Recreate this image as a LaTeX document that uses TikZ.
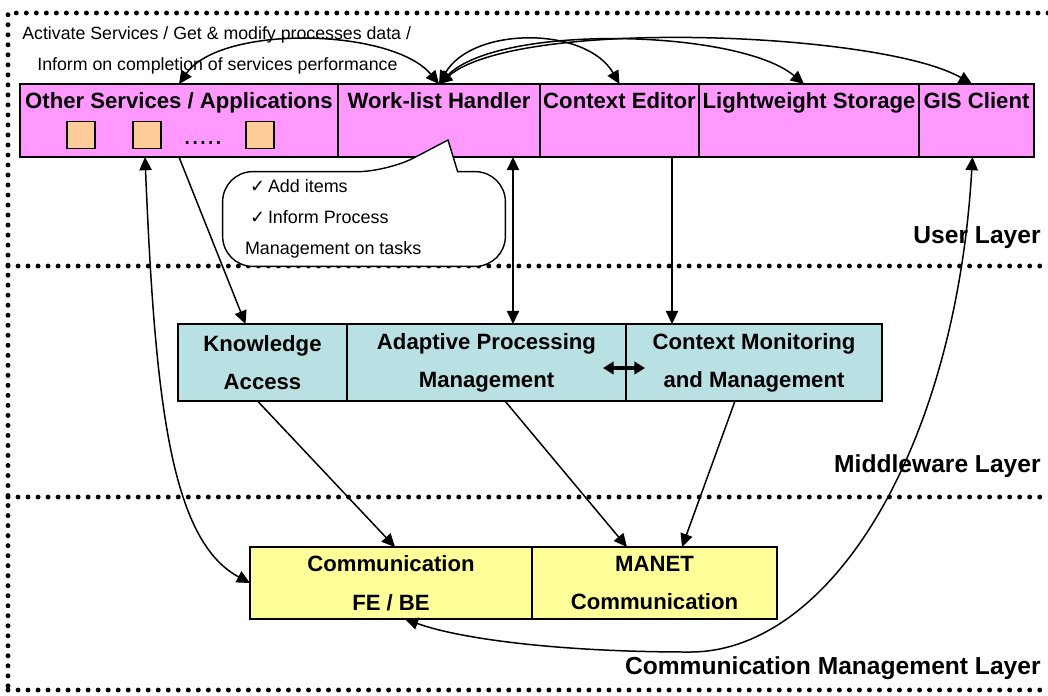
\documentclass[tikz,border=0pt]{standalone}
\usepackage{fontspec}
\setmainfont{Liberation Sans}
\newfontfamily\checkfont{DejaVu Sans}
\usepackage{tikz}
\usetikzlibrary{positioning, calc, arrows.meta}

\definecolor{userpink}{HTML}{FF99FF}
\definecolor{midblue}{HTML}{B9E0E3}
\definecolor{commyellow}{HTML}{FFFF99}
\definecolor{apporange}{HTML}{FFCC99}

\tikzstyle{userbox} = [rectangle, draw=black, line width=1pt, fill=userpink, minimum height=1.46cm, outer sep=0pt, inner sep=0pt]
\tikzstyle{midbox} = [rectangle, draw=black, line width=1pt, fill=midblue, minimum height=1.54cm, outer sep=0pt, align=center, font=\fontsize{12.6}{21.6}\selectfont\bfseries]
\tikzstyle{commbox} = [rectangle, draw=black, line width=1pt, fill=commyellow, minimum height=1.44cm, outer sep=0pt, align=center, font=\fontsize{12.6}{22}\selectfont\bfseries]
\tikzstyle{boxtitle} = [anchor=base, yshift=-0.48cm, inner sep=0pt, font=\fontsize{12.6}{15}\selectfont\bfseries]
\tikzstyle{app} = [rectangle, draw=black, line width=0.9pt, fill=apporange, minimum width=0.56cm, minimum height=0.54cm, inner sep=0pt]
\tikzstyle{layername} = [anchor=east, inner sep=0pt, font=\fontsize{14}{16}\selectfont\bfseries]
\tikzstyle{note} = [anchor=west, inner sep=0pt, font=\fontsize{10.1}{12}\selectfont]
\tikzstyle{separator} = [line width=2.8pt, dash pattern=on 0pt off 5.7pt, line cap=round]
\tikzstyle{arrow} = [line width=0.85pt, ->, >={Triangle[length=7.5pt,width=7pt]}]
\tikzstyle{bubbleline} = [line width=0.8pt, fill=white]

\begin{document}
\begin{tikzpicture}[node distance=0pt]
    \useasboundingbox (0,0) rectangle (20.96,-13.90);

    % Layer borders
    \draw [separator] (20.96,-0.26) -- (0.16,-0.26) -- (0.16,-13.90);
    \draw [separator] (0.16,-5.32) -- (20.96,-5.32);
    \draw [separator] (0.16,-9.94) -- (20.96,-9.94);
    \draw [separator] (0.16,-13.80) -- (20.96,-13.80);

    % Layer names
    \node (userlayer) [layername] at (20.82,-4.76) {User Layer};
    \node (midlayer) [layername] at (20.82,-9.32) {Middleware Layer};
    \node (commlayer) [layername] at (20.82,-13.36) {Communication Management Layer};

    % Notes on the top arrows
    \node (activate) [note] at (0.44,-0.70) {Activate Services / Get \& modify processes data /};
    \node (inform) [note] at (0.74,-1.32) {Inform on completion of services performance};

    % User Layer
    \node (other) [userbox, anchor=north west, minimum width=6.36cm] at (0.40,-1.68) {};
    \node (worklist) [userbox, right=of other, minimum width=4.04cm] {};
    \node (editor) [userbox, right=of worklist, minimum width=3.18cm] {};
    \node (storage) [userbox, right=of editor, minimum width=4.40cm] {};
    \node (gis) [userbox, right=of storage, minimum width=2.30cm] {};

    \node (othertitle) at (other.north) [boxtitle] {Other Services / Applications};
    \node (worklisttitle) at (worklist.north) [boxtitle] {Work-list Handler};
    \node (editortitle) at (editor.north) [boxtitle] {Context Editor};
    \node (storagetitle) at (storage.north) [boxtitle] {Lightweight Storage};
    \node (gistitle) at (gis.north) [boxtitle] {GIS Client};

    % Applications
    \node (app1) [app] at ($(other.south west)+(1.22,0.44)$) {};
    \node (app2) [app] at ($(other.south west)+(2.54,0.44)$) {};
    \node (appdots) [inner sep=0pt, font=\fontsize{16}{16}\selectfont] at ($(other.south west)+(3.66,0.28)$) {.....};
    \node (app3) [app] at ($(other.south west)+(4.80,0.44)$) {};

    % Work-list callout
    \node (bubble) [minimum width=5.64cm, minimum height=1.88cm, inner sep=0pt] at ($(worklist.south west)+(0.52,-1.24)$) {};
    \coordinate (tip) at ($(worklist.south west)+(2.20,0.34)$);
    \draw [bubbleline] ($(bubble.north west)+(3.30,0)$) -- (tip) -- ($(bubble.north west)+(4.70,0)$) [rounded corners=0.6cm] -- (bubble.north east) -- (bubble.south east) -- (bubble.south west) -- (bubble.north west) -- cycle;
    \node (bubbletext) [anchor=north west, align=left, inner sep=0pt, font=\fontsize{10.2}{17.6}\selectfont] at ($(bubble.north west)+(0.44,-0.16)$) {\hspace*{0.1cm}{\checkfont ✓}\,Add items\\\hspace*{0.1cm}{\checkfont ✓}\,Inform Process\\Management on tasks};

    % Middleware Layer
    \node (know) [midbox, anchor=north west, minimum width=3.38cm] at (3.56,-6.48) {Knowledge\\Access};
    \node (adaptive) [midbox, right=of know, minimum width=5.58cm] {Adaptive Processing\\Management};
    \node (monitor) [midbox, right=of adaptive, minimum width=5.12cm] {Context Monitoring\\and Management};

    % Communication Management Layer
    \node (commfe) [commbox, anchor=north west, minimum width=5.64cm] at (5.00,-10.94) {Communication\\FE / BE};
    \node (manet) [commbox, right=of commfe, minimum width=4.90cm] {MANET\\Communication};
    \coordinate (low) at (13.80,-13.04);

    % Arrows from the Work-list Handler
    \draw [arrow, <->] (worklist.north) to[out=130, in=55, looseness=0.72] (other.north);
    \draw [arrow, <->] (worklist.north) to[out=60, in=120, looseness=0.95] (editor.north);
    \draw [arrow, <->] (worklist.north) to[out=45, in=140, looseness=0.6] ([xshift=-0.1cm]storage.north);
    \draw [arrow, <->] (worklist.north) to[out=40, in=150, looseness=0.5] ([xshift=-0.09cm]gis.north);

    % Arrows between the layers
    \draw [arrow] (other.south) -- ([xshift=-0.34cm]know.north);
    \draw [arrow, <->] ([xshift=1.48cm]worklist.south) -- ([xshift=1.48cm]worklist.south |- adaptive.north);
    \draw [arrow] ([xshift=1.05cm]editor.south) -- ([xshift=1.05cm]editor.south |- monitor.north);
    \draw [line width=1.8pt, <->, >={Triangle[length=6pt,width=7pt]}] ([shift={(-0.46,-0.11)}]adaptive.east) -- ([shift={(0.38,-0.11)}]monitor.west);
    \draw [arrow] ([xshift=-0.1cm]know.south) -- ([xshift=0.08cm]commfe.north);
    \draw [arrow] ([xshift=0.37cm]adaptive.south) -- ([xshift=-0.55cm]manet.north);
    \draw [arrow] ([xshift=-0.38cm]monitor.south) -- ([xshift=0.55cm]manet.north);

    % Long arrows down to the communication boxes
    \draw [arrow, <->] ([xshift=-0.68cm]other.south) .. controls +(0.2,-4.84) and +(-1.6,0.86) .. (commfe.west);
    \draw [arrow, <->] ([xshift=-0.08cm]gis.south) .. controls +(-0.34,-5.86) and +(2.8,0) .. (low) .. controls +(-2.6,0) and +(1.1,-0.4) .. ([xshift=0.28cm]commfe.south);
\end{tikzpicture}
\end{document}
